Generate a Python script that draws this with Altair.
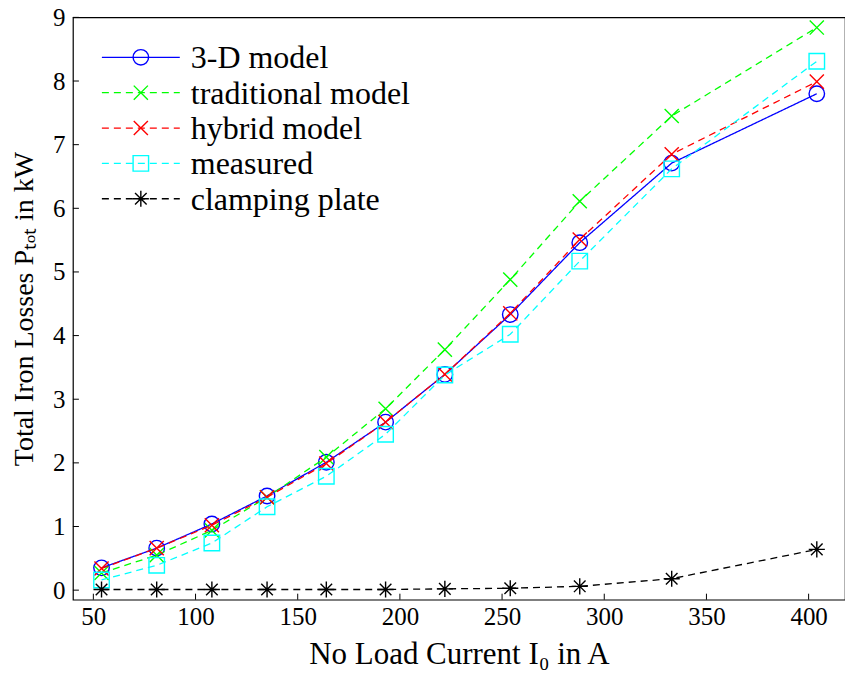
import altair as alt
import pandas as pd

# ---- data ----
current = [54, 81, 108, 135, 164, 193, 222, 254, 288, 333, 404]
model_3d = [0.35, 0.66, 1.04, 1.48, 2.01, 2.64, 3.39, 4.33, 5.46, 6.71, 7.80]
traditional = [0.27, 0.55, 0.94, 1.46, 2.09, 2.85, 3.78, 4.88, 6.11, 7.45, 8.84]
hybrid = [0.34, 0.66, 1.02, 1.46, 1.99, 2.64, 3.39, 4.35, 5.51, 6.85, 7.99]
measured = [0.16, 0.39, 0.74, 1.31, 1.79, 2.45, 3.38, 4.02, 5.17, 6.62, 8.31]
clamping = [0.01, 0.01, 0.01, 0.01, 0.01, 0.01, 0.02, 0.03, 0.06, 0.18, 0.64]

series_names = ["3-D model", "traditional model", "hybrid model", "measured", "clamping plate"]
series_values = [model_3d, traditional, hybrid, measured, clamping]
colors = ["#0000ff", "#00ff00", "#ff0000", "#00ffff", "#000000"]
dashes = [[1, 0], [7, 5], [7, 5], [7, 5], [7, 5]]

CROSS = "M-1,-1L1,1M1,-1L-1,1"
ASTER = "M-1,0L1,0M0,-1L0,1M-0.72,-0.72L0.72,0.72M0.72,-0.72L-0.72,0.72"
shapes = ["circle", CROSS, CROSS, "square", ASTER]
sizes = [240, 200, 200, 240, 260]

x_ticks = [50, 100, 150, 200, 250, 300, 350, 400]
y_ticks = [0, 1, 2, 3, 4, 5, 6, 7, 8, 9]

FONT = "Liberation Serif"
W, H = 773, 583

xscale = alt.Scale(domain=[40, 417.8], nice=False, zero=False)
yscale = alt.Scale(domain=[-0.15, 9], nice=False, zero=False)

x_axis = alt.Axis(values=x_ticks, title="No Load Current I₀ in A", grid=False,
                  domain=False, ticks=False, labelPadding=5, titlePadding=10,
                  labelFont=FONT, labelFontSize=25, titleFont=FONT,
                  titleFontSize=31, titleFontWeight="normal", labelColor="black",
                  titleColor="black")
y_axis = alt.Axis(values=y_ticks, title="Total Iron Losses Pₜₒₜ in kW", grid=False,
                  domain=False, ticks=False, labelPadding=8, titlePadding=14,
                  labelFont=FONT, labelFontSize=25, titleFont=FONT,
                  titleFontSize=28, titleFontWeight="normal", labelColor="black",
                  titleColor="black")


def X(field):
    return alt.X(field, scale=xscale, axis=x_axis)


def Y(field):
    return alt.Y(field, scale=yscale, axis=y_axis)


layers = []
for i, (name, vals) in enumerate(zip(series_names, series_values)):
    df = pd.DataFrame({"I0": current, "P": vals})
    base = alt.Chart(df)
    line = base.mark_line(color=colors[i], strokeDash=dashes[i], strokeWidth=1.3).encode(
        x=X("I0:Q"), y=Y("P:Q"))
    pts = base.mark_point(shape=shapes[i], size=sizes[i], filled=False, color=colors[i],
                          strokeWidth=1.4, opacity=1).encode(x=X("I0:Q"), y=Y("P:Q"))
    layers += [line, pts]

# inward tick marks
xt = alt.Chart(pd.DataFrame({"t": x_ticks})).mark_rule(color="black", strokeWidth=1).encode(
    x=X("t:Q"), y=alt.value(H), y2=alt.value(H - 6))
yt = alt.Chart(pd.DataFrame({"t": y_ticks})).mark_rule(color="black", strokeWidth=1).encode(
    y=Y("t:Q"), x=alt.value(0), x2=alt.value(6))
layers += [xt, yt]

# legend (inside, top-left)
for i, name in enumerate(series_names):
    ly = 40 + 35.4 * i
    one = alt.Chart(alt.Data(values=[{"label": name}]))
    layers.append(one.mark_rule(color=colors[i], strokeDash=dashes[i], strokeWidth=1.3).encode(
        x=alt.value(29), x2=alt.value(107), y=alt.value(ly)))
    layers.append(one.mark_point(shape=shapes[i], size=sizes[i], filled=False, color=colors[i],
                                 strokeWidth=1.4, opacity=1).encode(
        x=alt.value(68), y=alt.value(ly)))
    layers.append(one.mark_text(align="left", baseline="middle", font=FONT, fontSize=32,
                                color="black").encode(
        x=alt.value(118), y=alt.value(ly + 1), text="label:N"))

chart = alt.layer(*layers).properties(
    width=W, height=H,
    autosize=alt.AutoSizeParams(type="none"),
    padding={"left": 73, "top": 17, "right": 0, "bottom": 675 - 17 - H},
    background="white",
).configure_view(stroke="black", strokeWidth=1.2)

chart.save("out.html", embed_options={"renderer": "svg", "actions": False})
